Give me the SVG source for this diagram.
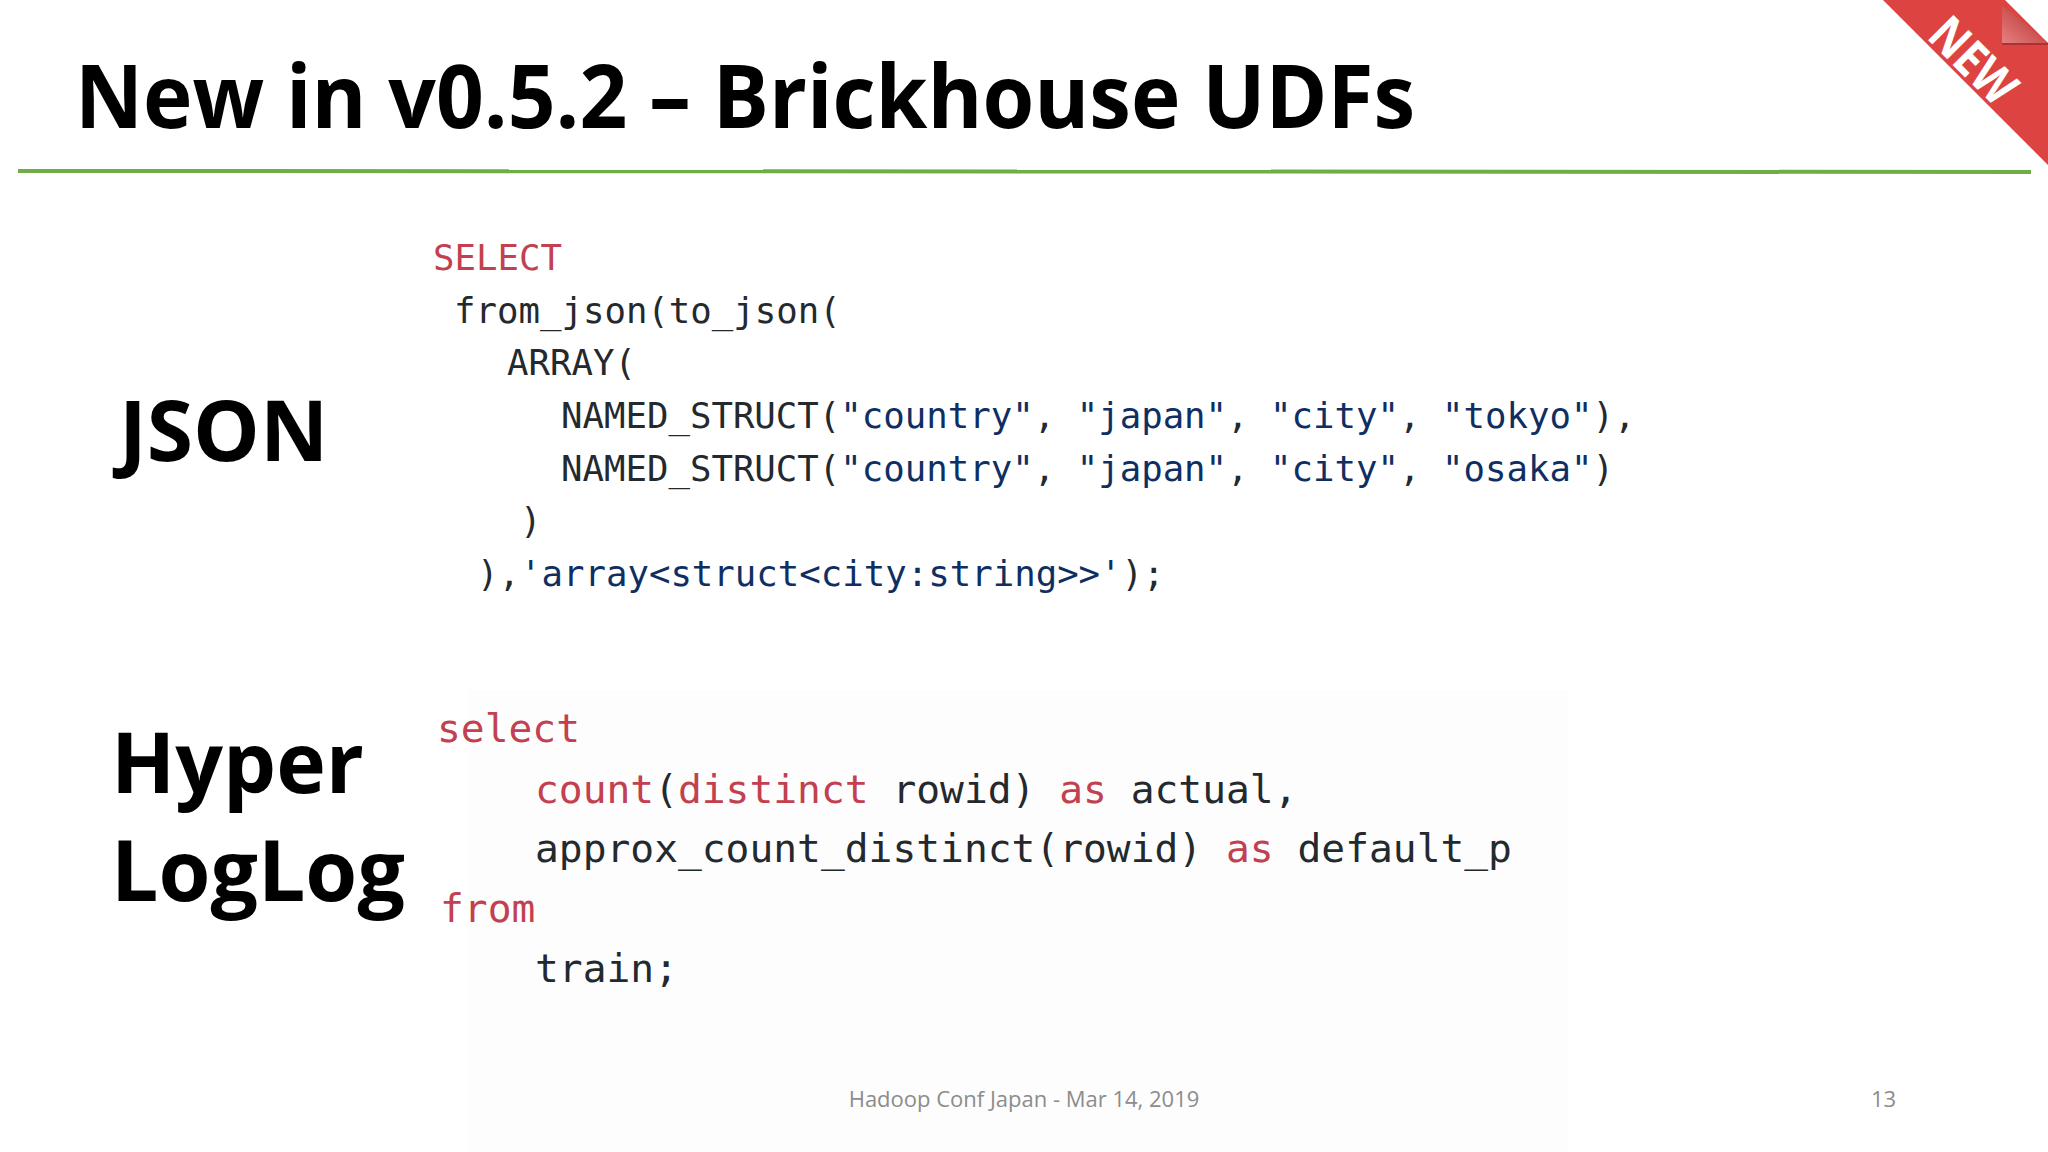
<svg xmlns="http://www.w3.org/2000/svg" width="2048" height="1152" viewBox="0 0 2048 1152">
<defs>
<style>
.h{font-family:"Open Sans",sans-serif;font-weight:700;fill:#000}
.c{font-family:"DejaVu Sans Mono",monospace;fill:#24292e;white-space:pre}
.a{font-size:35.7px}
.b{font-size:39.6px}
.k{fill:#c2404f}
.s{fill:#0f2f63}
.f{font-family:"Open Sans",sans-serif;font-size:22px;fill:#8c8c8c}
</style>
<linearGradient id="fold" x1="0" y1="1" x2="1" y2="0">
<stop offset="0" stop-color="#e88080"/><stop offset="0.6" stop-color="#c44a4a"/><stop offset="1" stop-color="#a83a3a"/>
</linearGradient>
</defs>
<rect width="2048" height="1152" fill="#fff"/>
<rect x="468" y="690" width="1100" height="462" fill="#fdfdfd"/>
<g id="corner">
<polygon points="1883,0 2005,0 2048,43 2048,165" fill="#dd4340"/>
<polygon points="2002,5 2048,43 2002,43" fill="url(#fold)"/>
<rect x="2002" y="43" width="46" height="2" fill="#a93333"/>
<text transform="translate(1936,27) rotate(45)" font-family="Open Sans,sans-serif" font-weight="700" font-size="50" fill="#fff" textLength="100" lengthAdjust="spacingAndGlyphs" x="0" y="15">NEW</text>
</g>
<g id="title"><text class="h" x="75" y="128" font-size="88" textLength="1340" lengthAdjust="spacingAndGlyphs">New in v0.5.2 – Brickhouse UDFs</text></g>
<line x1="18" y1="171" x2="2031" y2="172" stroke="#70ad47" stroke-width="4"/>
<g id="label-json"><text class="h" x="119" y="461" font-size="84">JSON</text></g>
<g id="label-hll"><text class="h" x="111" y="793" font-size="84">Hyper</text><text class="h" x="111" y="901" font-size="84">LogLog</text></g>
<g id="code-json" class="c a">
<text x="433" y="270" class="c a k">SELECT</text>
<text x="454" y="323" class="c a">from_json(to_json(</text>
<text x="519" y="375" class="c a" dx="-12">ARRAY(</text>
<text x="561" y="428" class="c a" dx="0">NAMED_STRUCT(<tspan class="s">"country"</tspan>, <tspan class="s">"japan"</tspan>, <tspan class="s">"city"</tspan>, <tspan class="s">"tokyo"</tspan>),</text>
<text x="561" y="481" class="c a">NAMED_STRUCT(<tspan class="s">"country"</tspan>, <tspan class="s">"japan"</tspan>, <tspan class="s">"city"</tspan>, <tspan class="s">"osaka"</tspan>)</text>
<text x="520" y="533" class="c a">)</text>
<text x="477" y="586" class="c a">),<tspan class="s">'array&lt;struct&lt;city:string&gt;&gt;'</tspan>);</text>
</g>
<g id="code-hll">
<text x="437" y="742" class="c b k">select</text>
<text x="535" y="803" class="c b"><tspan class="k">count</tspan>(<tspan class="k">distinct</tspan> rowid) <tspan class="k">as</tspan> actual,</text>
<text x="535" y="862" class="c b">approx_count_distinct(rowid) <tspan class="k">as</tspan> default_p</text>
<text x="440" y="922" class="c b k">from</text>
<text x="535" y="982" class="c b">train;</text>
</g>
<g id="footer">
<text class="f" x="1024" y="1107" text-anchor="middle">Hadoop Conf Japan - Mar 14, 2019</text>
<text class="f" x="1871" y="1107">13</text>
</g>
</svg>
